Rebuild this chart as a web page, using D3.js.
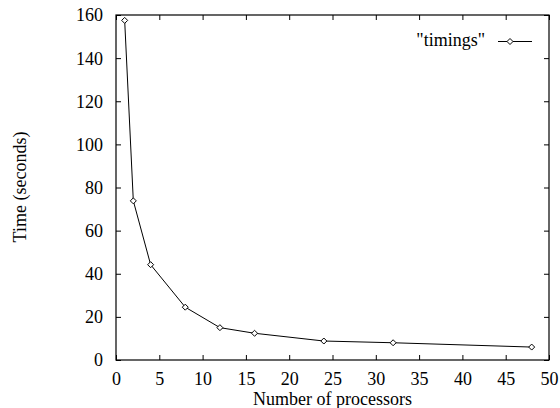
<!DOCTYPE html>
<html><head><meta charset="utf-8">
<script src="https://cdn.jsdelivr.net/npm/d3@7"></script>
<style>body{margin:0;background:#fff}</style>
</head><body>
<svg id="c" width="560" height="408"></svg>
<script>
const processors = [1, 2, 4, 8, 12, 16, 24, 32, 48];
const timings = [157.5, 73.8, 44.2, 24.5, 15.0, 12.4, 8.8, 8.0, 6.0];
const xTicks = [0, 5, 10, 15, 20, 25, 30, 35, 40, 45, 50];
const yTicks = [0, 20, 40, 60, 80, 100, 120, 140, 160];
const seriesName = '"timings"';

const FONT = "'Liberation Serif', 'Times New Roman', Times, 'DejaVu Serif', serif";
const FS = "18px";
const svg = d3.select("#c").style("font-family", FONT);
const L = 116, R = 549, T = 15, B = 360;
const x = d3.scaleLinear().domain([0, 50]).range([L, R]);
const y = d3.scaleLinear().domain([0, 160]).range([B, T]);
const tl = 5;

const gb = svg.append("g").attr("transform", `translate(0,${B})`)
  .call(d3.axisBottom(x).tickValues(xTicks).tickSize(-tl));
const gt = svg.append("g").attr("transform", `translate(0,${T})`)
  .call(d3.axisTop(x).tickValues(xTicks).tickSize(-tl).tickFormat(""));
const gl = svg.append("g").attr("transform", `translate(${L},0)`)
  .call(d3.axisLeft(y).tickValues(yTicks).tickSize(-tl));
const gr = svg.append("g").attr("transform", `translate(${R},0)`)
  .call(d3.axisRight(y).tickValues(yTicks).tickSize(-tl).tickFormat(""));

[gb, gt, gl, gr].forEach(g => {
  g.attr("font-family", null).attr("font-size", null);
  g.select(".domain").remove();
  g.selectAll(".tick line").attr("stroke", "#000").attr("stroke-width", 1);
  g.selectAll("text").style("font-family", FONT).style("font-size", FS).attr("fill", "#000");
});
gb.selectAll(".tick text").attr("y", 25).attr("dy", null);
gl.selectAll(".tick text").attr("x", -13).attr("dy", "0.33em");

svg.append("rect").attr("x", L).attr("y", T).attr("width", R - L).attr("height", B - T)
  .attr("fill", "none").attr("stroke", "#000").attr("stroke-width", 1.2);

const line = d3.line().x((d, i) => x(processors[i])).y(d => y(d));
svg.append("path").datum(timings).attr("d", line)
  .attr("fill", "none").attr("stroke", "#000").attr("stroke-width", 1);

const diamond = (cx, cy) => `M${cx},${cy-3}L${cx+3},${cy}L${cx},${cy+3}L${cx-3},${cy}Z`;
svg.selectAll(".pt").data(timings).enter().append("path")
  .attr("d", (d, i) => diamond(x(processors[i]), y(d)))
  .attr("fill", "#fff").attr("stroke", "#000").attr("stroke-width", 1);

svg.append("text").attr("x", 485).attr("y", 46).attr("text-anchor", "end")
  .style("font-family", FONT).style("font-size", FS).text(seriesName);
svg.append("line").attr("x1", 498).attr("x2", 532).attr("y1", 41.5).attr("y2", 41.5)
  .attr("stroke", "#000").attr("stroke-width", 1);
svg.append("path").attr("d", diamond(510, 41.5)).attr("fill", "#fff").attr("stroke", "#000");

svg.append("text").attr("x", (L + R) / 2).attr("y", 405.2).attr("text-anchor", "middle")
  .style("font-family", FONT).style("font-size", FS).text("Number of processors");
svg.append("text").attr("transform", "translate(26,187) rotate(-90)").attr("text-anchor", "middle")
  .style("font-family", FONT).style("font-size", FS).text("Time (seconds)");
</script>
</body></html>
